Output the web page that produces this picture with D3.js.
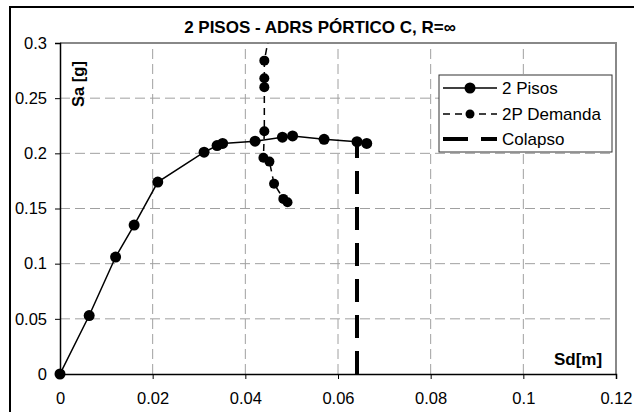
<!DOCTYPE html>
<html>
<head>
<meta charset="utf-8">
<script src="https://cdn.jsdelivr.net/npm/d3@7"></script>
<style>
  html, body { margin: 0; padding: 0; background: #fff; }
  svg text { font-family: "Liberation Sans", Arial, sans-serif; fill: #000; }
</style>
</head>
<body>
<svg id="chart" width="634" height="412"></svg>
<script>
// Capacity curve (2 Pisos)
const capSd = [0, 0.0063, 0.0120, 0.0160, 0.0211, 0.0311, 0.0339, 0.0351, 0.0421, 0.0480, 0.0502, 0.0570, 0.0641, 0.0662];
const capSa = [0, 0.053, 0.106, 0.135, 0.174, 0.201, 0.207, 0.209, 0.211, 0.2146, 0.2158, 0.2127, 0.2106, 0.209];

// Demand points (2P Demanda)
const demSd = [0.0451, 0.0441, 0.0441, 0.0441, 0.0441, 0.0439, 0.0452, 0.0462, 0.0482, 0.0491];
const demSa = [0.306, 0.284, 0.268, 0.260, 0.220, 0.196, 0.1925, 0.1725, 0.1587, 0.1557];

// Collapse marker (Colapso)
const colSd = [0.0641, 0.0641];
const colSa = [0, 0.2106];

const xTicks = [0, 0.02, 0.04, 0.06, 0.08, 0.1, 0.12];
const yTicks = [0, 0.05, 0.1, 0.15, 0.2, 0.25, 0.3];
const legendLabels = ["2 Pisos", "2P Demanda", "Colapso"];
const titleText = "2 PISOS - ADRS PÓRTICO C, R=∞";

const svg = d3.select("#chart");
const pLeft = 60, pRight = 616, pTop = 43, pBottom = 374;

const x = d3.scaleLinear().domain([0, 0.12]).range([pLeft, pRight]);
const y = d3.scaleLinear().domain([0, 0.3]).range([pBottom, pTop]);

// outer frame
svg.append("rect").attr("x", 10).attr("y", 7).attr("width", 660).attr("height", 440)
  .attr("fill", "none").attr("stroke", "#000").attr("stroke-width", 2);

// grid
const grid = svg.append("g").attr("stroke", "#a0a0a0").attr("stroke-width", 1).attr("stroke-dasharray", "10,5");
grid.selectAll("line.v").data(xTicks.slice(1, -1)).join("line").attr("class", "v")
  .attr("x1", d => x(d)).attr("x2", d => x(d)).attr("y1", pBottom).attr("y2", pTop);
grid.selectAll("line.h").data(yTicks.slice(1, -1)).join("line").attr("class", "h")
  .attr("x1", pLeft).attr("x2", pRight).attr("y1", d => y(d)).attr("y2", d => y(d));

// plot-area border (top/right)
svg.append("path")
  .attr("d", `M${pLeft},${pTop}H${pRight}V${pBottom}`)
  .attr("fill", "none").attr("stroke", "#888").attr("stroke-width", 2);

// axes
const fmt = d => String(+d.toFixed(2));
const xAxis = svg.append("g").attr("transform", `translate(0,${pBottom})`)
  .call(d3.axisBottom(x).tickValues(xTicks).tickFormat(fmt).tickSize(5).tickPadding(13));
const yAxis = svg.append("g").attr("transform", `translate(${pLeft},0)`)
  .call(d3.axisLeft(y).tickValues(yTicks).tickFormat(fmt).tickSize(5).tickPadding(8));
[xAxis, yAxis].forEach(a => {
  a.select(".domain").attr("stroke", "#000").attr("stroke-width", 1.5);
  a.selectAll(".tick line").attr("stroke", "#000").attr("stroke-width", 1);
  a.selectAll(".tick text").attr("font-size", 16.5).attr("font-family", "Liberation Sans, Arial, sans-serif");
});

// clip to plot area
svg.append("defs").append("clipPath").attr("id", "plotClip")
  .append("rect").attr("x", pLeft).attr("y", pTop).attr("width", pRight - pLeft).attr("height", pBottom - pTop);

const plot = svg.append("g").attr("clip-path", "url(#plotClip)");
const line = d3.line().x(d => x(d[0])).y(d => y(d[1]));

const capPts = capSd.map((d, i) => [d, capSa[i]]);
const demPts = demSd.map((d, i) => [d, demSa[i]]);
const colPts = colSd.map((d, i) => [d, colSa[i]]);

// collapse line
plot.append("path").attr("d", line(colPts)).attr("fill", "none")
  .attr("stroke", "#000").attr("stroke-width", 4).attr("stroke-dasharray", "23,13");

// demand
plot.append("path").attr("d", line(demPts)).attr("fill", "none")
  .attr("stroke", "#000").attr("stroke-width", 1.5).attr("stroke-dasharray", "7,5");
plot.selectAll("circle.dem").data(demPts).join("circle").attr("class", "dem")
  .attr("cx", d => x(d[0])).attr("cy", d => y(d[1])).attr("r", 5).attr("fill", "#000");

// capacity
plot.append("path").attr("d", line(capPts)).attr("fill", "none")
  .attr("stroke", "#000").attr("stroke-width", 1.5);
svg.selectAll("circle.cap").data(capPts).join("circle").attr("class", "cap")
  .attr("cx", d => x(d[0])).attr("cy", d => y(d[1])).attr("r", 5.5).attr("fill", "#000");

// title and axis labels
svg.append("text").attr("x", 320).attr("y", 33).attr("text-anchor", "middle")
  .attr("font-size", 17).attr("font-weight", "bold").text(titleText);
svg.append("text").attr("transform", "translate(84,84) rotate(-90)").attr("text-anchor", "middle")
  .attr("font-size", 16.5).attr("font-weight", "bold").text("Sa [g]");
svg.append("text").attr("x", 578).attr("y", 365).attr("text-anchor", "middle")
  .attr("font-size", 17).attr("font-weight", "bold").text("Sd[m]");

// legend
const lg = svg.append("g");
lg.append("rect").attr("x", 439).attr("y", 75).attr("width", 173).attr("height", 77)
  .attr("fill", "#fff").attr("stroke", "#333").attr("stroke-width", 1);
const rowsY = [88, 114, 139];
const styles = [
  { dash: null, w: 1.5, r: 5.5 },
  { dash: "7,5", w: 1.5, r: 4.5 },
  { dash: "25,13", w: 4, r: 0 }
];
legendLabels.forEach((lab, i) => {
  const s = styles[i];
  lg.append("line").attr("x1", 443).attr("x2", 497).attr("y1", rowsY[i]).attr("y2", rowsY[i])
    .attr("stroke", "#000").attr("stroke-width", s.w).attr("stroke-dasharray", s.dash);
  if (s.r > 0) lg.append("circle").attr("cx", 470).attr("cy", rowsY[i]).attr("r", s.r).attr("fill", "#000");
  lg.append("text").attr("x", 502).attr("y", rowsY[i]).attr("dy", "0.35em")
    .attr("font-size", 17).text(lab);
});
</script>
</body>
</html>
